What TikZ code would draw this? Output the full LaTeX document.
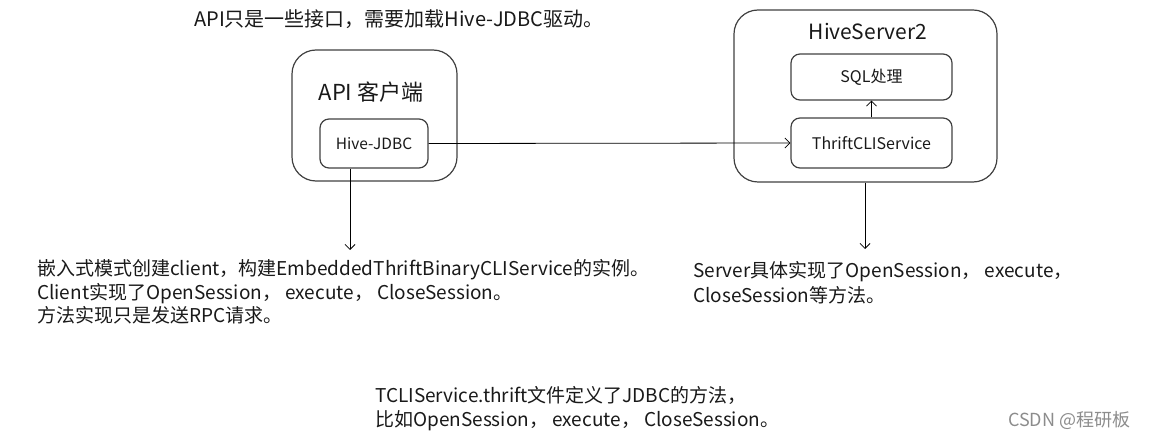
\documentclass[tikz,border=0pt]{standalone}
\usepackage{fontspec}
\setmainfont{Noto Sans CJK SC}
\usetikzlibrary{arrows.meta}
\tikzset{
  outer/.style={draw=black!75, line width=1.2pt, rounded corners=24pt},
  inner/.style={draw=black!75, line width=1.2pt, rounded corners=9pt},
  conn/.style={draw=black, line width=0.8pt, -{Straight Barb[length=5pt,width=10pt]}},
  txt/.style={anchor=base west, inner sep=0pt, font=\fontsize{19}{22}\selectfont, text=black!90},
  lbl/.style={inner sep=0pt, text=black!90}
}
\begin{document}
\begin{tikzpicture}[x=1pt,y=-1pt]
\useasboundingbox (0,0) rectangle (1156,438);
% API client
\draw[outer] (292,50) rectangle (457,181);
\node[lbl, font=\fontsize{22}{25}\selectfont] (apil) at (371,92) {API 客户端};
\node[inner, minimum width=108pt, minimum height=49pt] (jdbc) at (374,143.5) {};
\node[lbl, font=\fontsize{15.5}{18}\selectfont] (jdbct) at (374,143.5) {Hive-JDBC};
% HiveServer2
\node[outer, minimum width=263pt, minimum height=172pt] (hs2) at (865.5,96) {};
\node[lbl, font=\fontsize{21}{24}\selectfont] (hs2t) at (868,32) {HiveServer2};
\node[inner, minimum width=161pt, minimum height=46pt] (sql) at (871.5,77) {};
\node[lbl, font=\fontsize{16}{19}\selectfont] (sqlt) at (871.5,77) {SQL处理};
\node[inner, minimum width=161pt, minimum height=50pt] (thr) at (871.5,143) {};
\node[lbl, font=\fontsize{16}{19}\selectfont] (thrt) at (871.5,143) {ThriftCLIService};
% connectors
\coordinate (c1) at (350,250);
\coordinate (c2) at (865,249);
\draw[conn] (jdbc.east) -- (thr.west);
\draw[conn] (thr.north) -- (sql.south);
\draw[conn] (jdbc.south -| c1) -- (c1);
\draw[conn] (hs2.south -| c2) -- (c2);
% texts
\node[txt, font=\fontsize{20}{23}\selectfont] (top) at (194,27) {API只是一些接口，需要加载Hive-JDBC驱动。};
\node[txt] (l1) at (37,276) {嵌入式模式创建client，构建EmbeddedThriftBinaryCLIService的实例。};
\node[txt] (l2) at (37,299) {Client实现了OpenSession， execute， CloseSession。};
\node[txt] (l3) at (37,322) {方法实现只是发送RPC请求。};
\node[txt] (r1) at (693,278) {Server具体实现了OpenSession， execute，};
\node[txt] (r2) at (693,302) {CloseSession等方法。};
\node[txt] (b1) at (375,402) {TCLIService.thrift文件定义了JDBC的方法，};
\node[txt] (b2) at (375,426) {比如OpenSession， execute， CloseSession。};
\node[txt, text=black!45, font=\fontsize{18}{21}\selectfont] (wm) at (1008,426) {CSDN @程研板};
\end{tikzpicture}
\end{document}
